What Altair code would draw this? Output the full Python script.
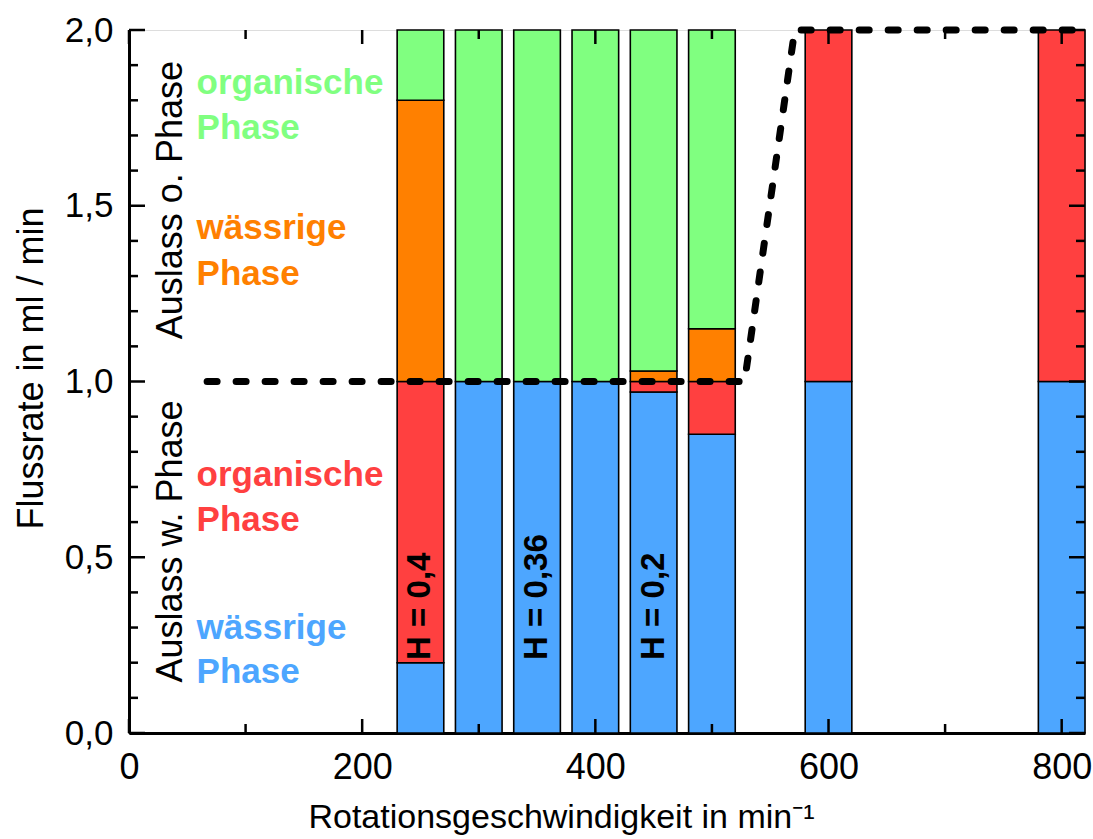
import altair as alt
import pandas as pd

# ---------------- data ----------------
speeds = [250, 300, 350, 400, 450, 500, 600, 800]
ww_vals = [0.20, 1.00, 1.00, 1.00, 0.97, 0.85, 1.00, 1.00]   # Auslass w. Phase: wässrige Phase
wo_vals = [0.80, 0.00, 0.00, 0.00, 0.03, 0.15, 1.00, 1.00]   # Auslass w. Phase: organische Phase
ow_vals = [0.80, 0.00, 0.00, 0.00, 0.03, 0.15, 0.00, 0.00]   # Auslass o. Phase: wässrige Phase
oo_vals = [0.20, 1.00, 1.00, 1.00, 0.97, 0.85, 0.00, 0.00]   # Auslass o. Phase: organische Phase
segment_names = ["ww", "wo", "ow", "oo"]
segment_colors = ["#4da6ff", "#ff4040", "#ff8000", "#80ff80"]
bar_width = 40

dash_x = [67, 528, 571, 820]
dash_y = [1.0, 1.0, 2.0, 2.0]

x_major = [0, 200, 400, 600, 800]
x_minor = [100, 300, 500, 700]
y_major = [0.0, 0.5, 1.0, 1.5, 2.0]
y_minor = [0.1, 0.2, 0.3, 0.4, 0.6, 0.7, 0.8, 0.9, 1.1, 1.2, 1.3, 1.4, 1.6, 1.7, 1.8, 1.9]

ann_text = ["organische", "Phase", "wässrige", "Phase", "organische", "Phase", "wässrige", "Phase"]
ann_x = [58, 58, 58, 58, 58, 58, 58, 58]
ann_y = [1.849, 1.721, 1.437, 1.306, 0.734, 0.606, 0.299, 0.174]
ann_color = ["#80ff80", "#80ff80", "#ff8000", "#ff8000", "#ff4040", "#ff4040", "#4da6ff", "#4da6ff"]

outlet_text = ["Auslass o. Phase", "Auslass w. Phase"]
outlet_x = [36, 36]
outlet_y = [1.516, 0.545]

h_text = ["H = 0,4", "H = 0,36", "H = 0,2"]
h_x = [250, 350, 450]
h_y = [0.208, 0.208, 0.208]

W, H = 956, 703
FONT = "Liberation Sans"

# ---------------- tables ----------------
rows = []
for i, s in enumerate(speeds):
    base = 0.0
    for name, vals in zip(segment_names, [ww_vals, wo_vals, ow_vals, oo_vals]):
        v = vals[i]
        if v > 0:
            rows.append({"x0": s - bar_width / 2, "x1": s + bar_width / 2,
                         "y0": base, "y1": base + v, "seg": name})
        base += v
bars_df = pd.DataFrame(rows)
dash_df = pd.DataFrame({"x": dash_x, "y": dash_y, "o": list(range(len(dash_x)))})
ann_df = pd.DataFrame({"t": ann_text, "x": ann_x, "y": ann_y, "c": ann_color})
out_df = pd.DataFrame({"t": outlet_text, "x": outlet_x, "y": outlet_y})
h_df = pd.DataFrame({"t": h_text, "x": h_x, "y": h_y})

xscale = alt.Scale(domain=[0, 820], nice=False, zero=False)
yscale = alt.Scale(domain=[0, 2], nice=False)

xaxis = alt.Axis(values=x_major, format="d", ticks=False, tickSize=0, labelPadding=17,
                 labelFlush=False, labelOverlap=False,
                 labelFontSize=36, labelFont=FONT, labelColor="black",
                 domain=True, domainColor="black", domainWidth=3, grid=False,
                 title="Rotationsgeschwindigkeit in min⁻¹", titleFontSize=34, titleFont=FONT,
                 titleFontWeight="normal", titleColor="black",
                 titleX=432, titleY=94, titleBaseline="alphabetic", titleAlign="center")
yaxis = alt.Axis(values=y_major, ticks=False, tickSize=0, labelPadding=16,
                 labelFlush=False, labelOverlap=False,
                 labelExpr="replace(format(datum.value, '.1f'), '.', ',')",
                 labelFontSize=35, labelFont=FONT, labelColor="black",
                 domain=True, domainColor="black", domainWidth=3, grid=False,
                 title="Flussrate in ml / min", titleFontSize=36, titleFont=FONT,
                 titleFontWeight="normal", titleColor="black",
                 titleX=-87, titleY=338, titleBaseline="alphabetic", titleAlign="center",
                 titleAngle=270)

bars = alt.Chart(bars_df).mark_bar(stroke="black", strokeWidth=1.6, opacity=1).encode(
    x=alt.X("x0:Q", scale=xscale, axis=xaxis),
    x2="x1:Q",
    y=alt.Y("y0:Q", scale=yscale, axis=yaxis),
    y2="y1:Q",
    color=alt.Color("seg:N", scale=alt.Scale(domain=segment_names, range=segment_colors), legend=None),
)

dash = alt.Chart(dash_df).mark_line(color="black", strokeWidth=7, strokeDash=[10, 19],
                                    strokeCap="round").encode(
    x=alt.X("x:Q", scale=xscale), y=alt.Y("y:Q", scale=yscale), order="o:Q")

ann = alt.Chart(ann_df).mark_text(align="left", baseline="middle", fontSize=35,
                                  fontWeight="bold", font=FONT).encode(
    x=alt.X("x:Q", scale=xscale), y=alt.Y("y:Q", scale=yscale),
    text="t:N", color=alt.Color("c:N", scale=None))

outl = alt.Chart(out_df).mark_text(align="center", baseline="middle", fontSize=36,
                                   angle=270, font=FONT, color="black").encode(
    x=alt.X("x:Q", scale=xscale), y=alt.Y("y:Q", scale=yscale), text="t:N")

htx = alt.Chart(h_df).mark_text(align="left", baseline="middle", fontSize=33, fontWeight="bold",
                                angle=270, font=FONT, color="black").encode(
    x=alt.X("x:Q", scale=xscale), y=alt.Y("y:Q", scale=yscale), text="t:N")


def yticks(vals, length):
    d = pd.DataFrame({"v": vals})
    left = alt.Chart(d).mark_rule(color="black", strokeWidth=2.5).encode(
        y=alt.Y("v:Q", scale=yscale), x=alt.value(0), x2=alt.value(length))
    right = alt.Chart(d).mark_rule(color="black", strokeWidth=2.5).encode(
        y=alt.Y("v:Q", scale=yscale), x=alt.value(W), x2=alt.value(W - length))
    return [left, right]


def xticks(vals, length):
    d = pd.DataFrame({"v": vals})
    bottom = alt.Chart(d).mark_rule(color="black", strokeWidth=2.5).encode(
        x=alt.X("v:Q", scale=xscale), y=alt.value(H), y2=alt.value(H - length))
    top = alt.Chart(d).mark_rule(color="black", strokeWidth=2.5).encode(
        x=alt.X("v:Q", scale=xscale), y=alt.value(0), y2=alt.value(length))
    return [bottom, top]


tick_layers = yticks(y_major, 16) + yticks(y_minor, 9) + xticks(x_major, 14) + xticks(x_minor, 9)

chart = alt.layer(bars, dash, ann, outl, htx, *tick_layers).properties(
    width=W, height=H,
    autosize=alt.AutoSizeParams(type="none"),
    padding={"left": 129, "top": 30, "right": 8, "bottom": 106},
).configure_view(stroke="black", strokeWidth=3).configure(background="white")

chart.save("out.html", embed_options={"renderer": "svg", "actions": False})
